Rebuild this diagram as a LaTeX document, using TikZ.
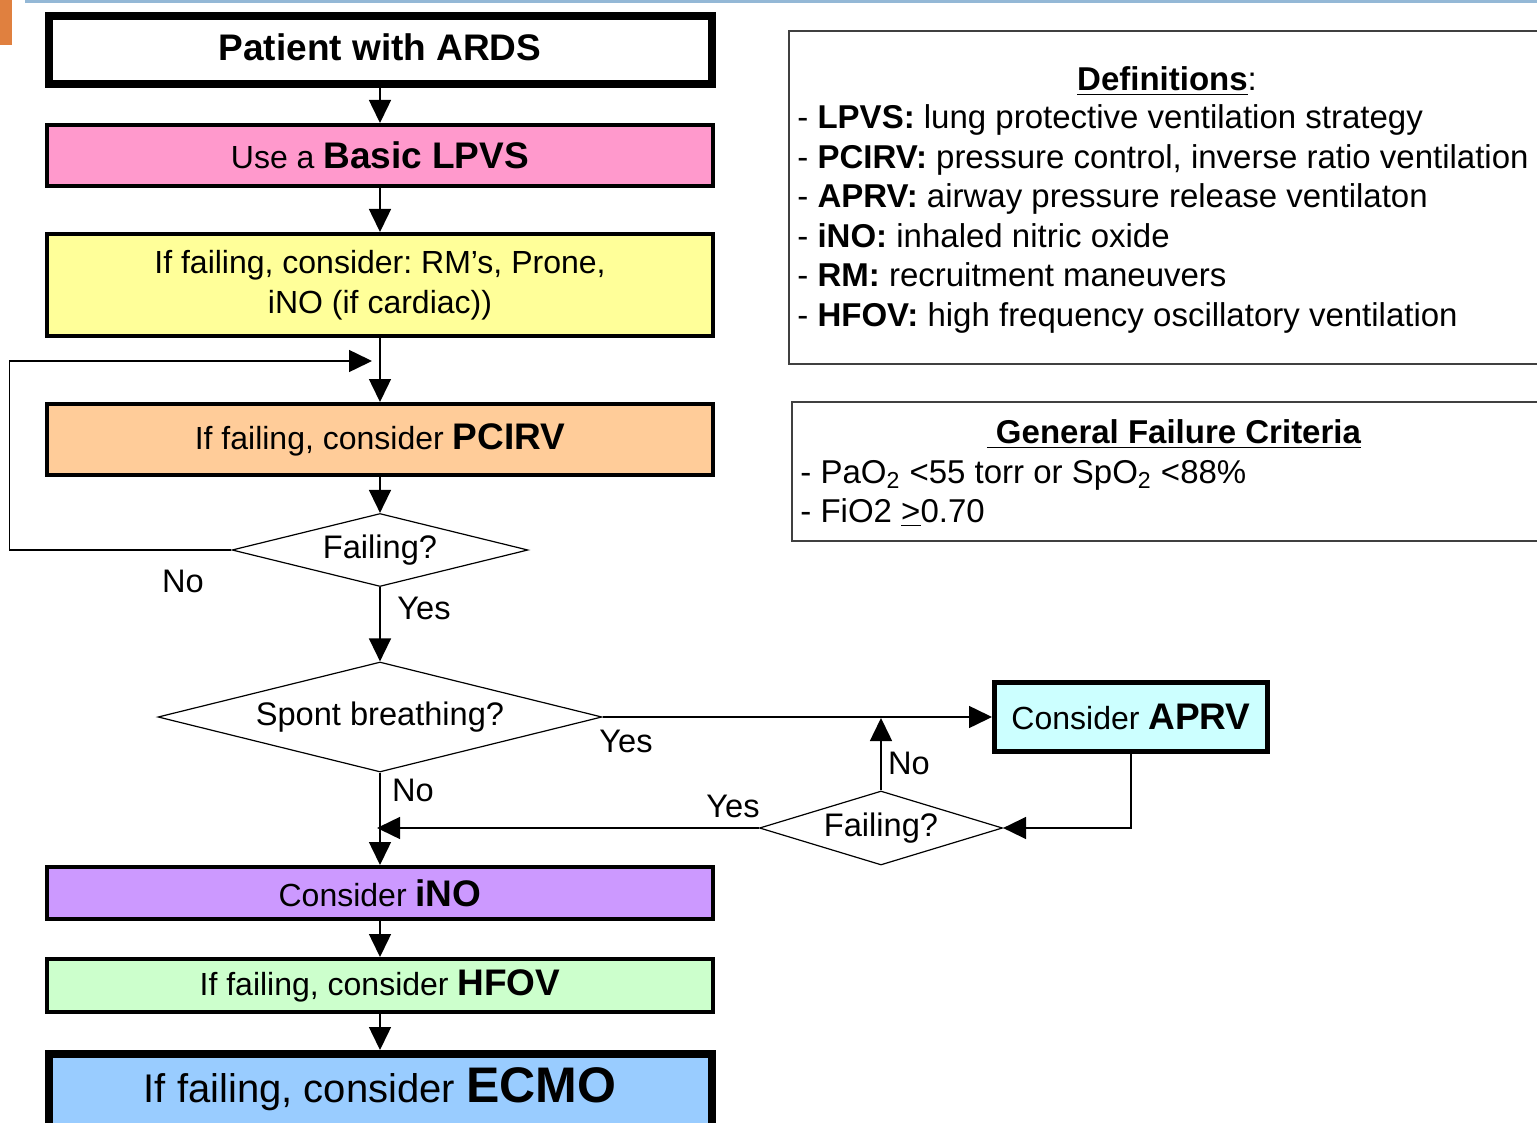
\documentclass[tikz,border=0pt]{standalone}
\usepackage{fontspec}
\setmainfont{Liberation Sans}
\usetikzlibrary{shapes.geometric,arrows.meta}
\frenchspacing

\definecolor{lpvspink}{HTML}{FF99CC}
\definecolor{rmyellow}{HTML}{FFFF99}
\definecolor{pcirvorange}{HTML}{FFCC99}
\definecolor{aprvcyan}{HTML}{CCFFFF}
\definecolor{inopurple}{HTML}{CC99FF}
\definecolor{hfovgreen}{HTML}{CCFFCC}
\definecolor{ecmoblue}{HTML}{99CCFF}
\definecolor{slideorange}{HTML}{E0803F}
\definecolor{slideblue}{HTML}{94B8D6}

\newcommand{\bodytext}{\fontsize{16pt}{20pt}\selectfont}
\newcommand{\labeltext}{\fontsize{16.3pt}{20pt}\selectfont}
\newcommand{\deftext}{\fontsize{16.5pt}{19.8pt}\selectfont}
\newcommand{\keyterm}[1]{{\fontsize{18.5pt}{20pt}\selectfont\bfseries #1}}

\begin{document}
\begin{tikzpicture}[x=0.5pt, y=-0.5pt,
    box/.style={rectangle, draw, line width=2pt, minimum width=333pt,
                inner sep=0pt, align=center, font=\bodytext},
    heavybox/.style={box, line width=4pt, minimum width=331.5pt},
    decision/.style={diamond, draw, line width=0.6pt, inner sep=0pt,
                     font=\labeltext},
    tag/.style={inner sep=0pt, font=\labeltext},
    frame/.style={draw=black!75, line width=0.8pt},
    arrow/.style={-{Triangle[length=11.5pt, width=11pt]}, line width=0.75pt}
  ]
  \useasboundingbox (0,0) rectangle (1537,1123);
  % slide decoration
  \fill[slideorange] (0,0) rectangle (12,45);
  \fill[slideblue] (25,0) rectangle (1537,3);

  % main flow
  \node[heavybox, minimum height=34pt, text depth=3pt,
        font=\fontsize{18.5pt}{22pt}\selectfont\bfseries] (ards) at (380,50) {Patient with ARDS};
  \node[box, fill=lpvspink, minimum height=30.5pt] (lpvs) at (380,155.5) {Use a \keyterm{Basic LPVS}};
  \node[box, fill=rmyellow, minimum height=51pt] (rm) at (380,285) {If failing, consider: RM's, Prone,\\iNO (if cardiac))};
  \node[box, fill=pcirvorange, minimum height=35.5pt] (pcirv) at (380,439.5) {If failing, consider \keyterm{PCIRV}};
  \node[decision, minimum width=148pt, minimum height=36.5pt, aspect=4.05] (fail1) at (380,550) {Failing?};
  \node[decision, minimum width=222pt, minimum height=55pt, aspect=4.04] (spont) at (380,717) {Spont breathing?};
  \node[box, fill=aprvcyan, line width=2.5pt, minimum width=136.5pt, minimum height=34.5pt] (aprv) at (1131,717) {Consider \keyterm{APRV}};
  \node[decision, minimum width=121.5pt, minimum height=37pt, aspect=3.28] (fail2) at (881,828) {Failing?};
  \node[box, fill=inopurple, minimum height=26pt] (ino) at (380,893) {Consider \keyterm{iNO}};
  \node[box, fill=hfovgreen, minimum height=26.5pt] (hfov) at (380,985.5) {If failing, consider \keyterm{HFOV}};
  \node[heavybox, fill=ecmoblue, anchor=north, minimum height=0pt, text height=24pt, text depth=20pt,
        font=\fontsize{20pt}{24pt}\selectfont] (ecmo) at (380,1050)
        {If failing, consider {\fontsize{25pt}{28pt}\selectfont\bfseries ECMO}};

  \coordinate (loopin) at (372,361);
  \coordinate (noup) at (881,718);
  \coordinate (yesin) at (377,828);

  \draw[arrow] (ards) -- (lpvs);
  \draw[arrow] (lpvs) -- (rm);
  \draw[arrow] (rm) -- (pcirv);
  \draw[arrow] (pcirv) -- (fail1);
  \draw[arrow] (fail1.west) -- ++(-222,0) |- (loopin);
  \draw[arrow] (fail1.south) -- (spont.north);
  \draw[arrow] (spont.east) -- (aprv.west);
  \draw[arrow] (aprv.south) |- (fail2.east);
  \draw[arrow] (fail2.north) -- (noup);
  \draw[arrow] (fail2.west) -- (yesin);
  \draw[arrow] (spont.south) -- (ino.north);
  \draw[arrow] (ino) -- (hfov);
  \draw[arrow] (hfov) -- (ecmo);

  % branch labels
  \node[tag] (nofail1)  at (183,581) {No};
  \node[tag] (yesfail1) at (424,608) {Yes};
  \node[tag] (yesspont) at (626,741) {Yes};
  \node[tag] (nospont)  at (413,790) {No};
  \node[tag] (nofail2)  at (909,763) {No};
  \node[tag] (yesfail2) at (733,806) {Yes};

  % definitions
  \draw[frame] (789,31) rectangle (1545,364);
  \node[tag, font=\deftext] (defhead) at (1167,81) {\underline{\textbf{Definitions}}:};
  \node[tag, font=\deftext, align=left, anchor=west] (deflist) at (797,219)
    {- \textbf{LPVS:} lung protective ventilation strategy\\
     - \textbf{PCIRV:} pressure control, inverse ratio ventilation\\
     - \textbf{APRV:} airway pressure release ventilaton\\
     - \textbf{iNO:} inhaled nitric oxide\\
     - \textbf{RM:} recruitment maneuvers\\
     - \textbf{HFOV:} high frequency oscillatory ventilation};

  % failure criteria
  \draw[frame] (792,402) rectangle (1545,541);
  \node[tag, font=\deftext] (crithead) at (1174,434) {\underline{\textbf{\ General Failure Criteria}}};
  \node[tag, font=\deftext, align=left, anchor=west] (critlist) at (800,493.5)
    {- PaO\textsubscript{2} <55 torr or SpO\textsubscript{2} <88\%\\
     - FiO2 \underline{>}0.70};
\end{tikzpicture}
\end{document}
